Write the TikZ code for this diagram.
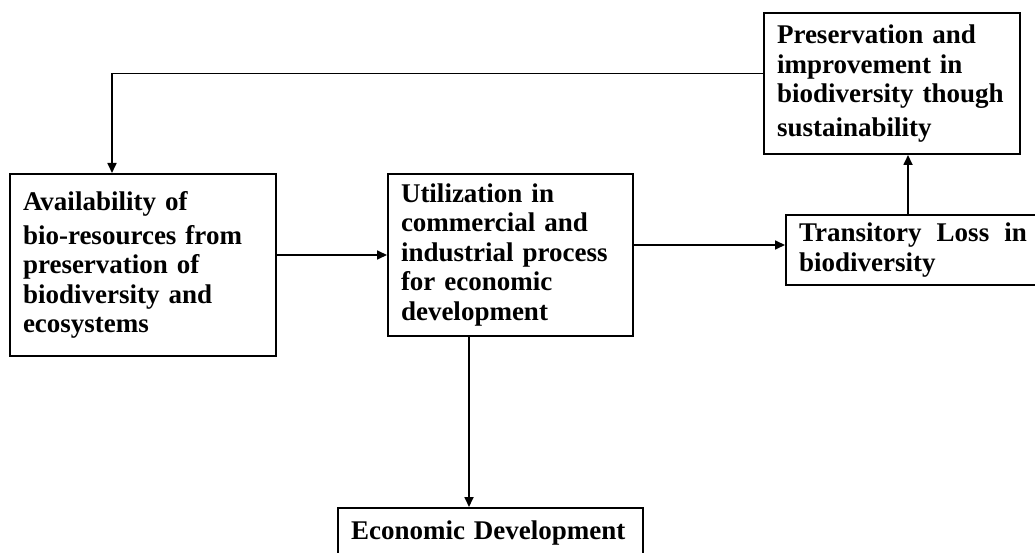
\documentclass[tikz,border=0pt]{standalone}
\usepackage{fontspec}
\setmainfont{Liberation Serif}
\usetikzlibrary{arrows.meta,positioning}

\tikzset{
  flowbox/.style={draw, line width=2pt, anchor=north west, align=left,
    inner xsep=13pt, inner ysep=0pt,
    font=\bfseries\fontsize{27}{29.5}\selectfont},
  arr/.style={line width=1.7pt, -{Triangle[length=10pt,width=9pt]}}
}

\begin{document}
\begin{tikzpicture}[x=1pt, y=-1pt]
  \useasboundingbox (0,0) rectangle (1035,553);
  % boxes
  \node [flowbox, text width=240pt, minimum height=182pt] (avail) at (9,173)
    {Availability of\\[4pt] bio-resources from\\ preservation of\\ biodiversity and\\ ecosystems};
  \node [flowbox, text width=219pt, minimum height=162pt] (util) at (387,173)
    {Utilization in\\ commercial and\\ industrial process\\ for economic\\ development};
  \node [flowbox, text width=228pt, minimum height=70pt] (loss) at (785,214)
    {Transitory\hfill Loss\hfill in\\ biodiversity};
  \node [flowbox, text width=230pt, minimum height=141pt] (pres) at (763,12)
    {Preservation and\\ improvement in\\ biodiversity though\\[4pt] sustainability};
  \node [flowbox, text width=279pt, minimum height=51pt] (econ) at (337,507)
    {Economic Development};
  % connectors
  \coordinate (ul) at ([yshift=5pt]loss.west);
  \coordinate (lp) at ([xshift=-5pt]loss.north);
  \coordinate (pa) at ([yshift=10pt]pres.west);
  \coordinate (ap) at ([xshift=-31pt]avail.north);
  \coordinate (ue) at ([xshift=-41.5pt]util.south);
  \draw [arr] (avail.east |- util.west) -- (util.west);
  \draw [arr] (ul -| util.east) -- (ul);
  \draw [arr] (lp) -- (lp |- pres.south);
  \draw [arr] (pa) -| (ap);
  \draw [arr] (ue) -- (ue |- econ.north);
\end{tikzpicture}
\end{document}
